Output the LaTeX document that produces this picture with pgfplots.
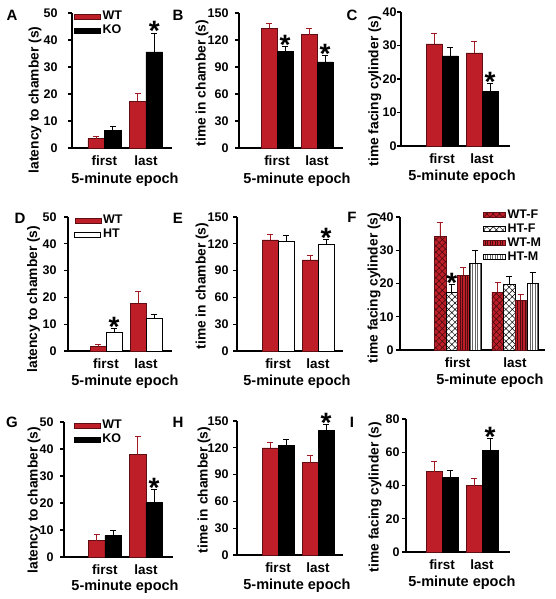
\documentclass[border=0pt]{standalone}
\usepackage{pgfplots}
\pgfplotsset{compat=1.18}
\usepackage{fontspec}
\setmainfont{Liberation Sans}
\usetikzlibrary{patterns.meta}
\definecolor{wtred}{RGB}{190,30,40}
\newcommand{\fs}[1]{\fontsize{#1}{#1}\selectfont}
\newcommand{\sig}[2]{\node[font=\bfseries\fs{28}, anchor=base, yshift=-8pt, inner sep=0pt] at (axis cs:#1,#2) {*};}
\pgfplotsset{
 panel/.style={
  scale only axis, anchor=south west,
  axis x line=bottom, axis y line=left,
  axis line style={-, line width=1.7pt},
  enlargelimits=false,
  ybar, ymin=0, clip=false,
  xtick={1,2}, xticklabels={first,last},
  xtick style={draw=none},
  ytick style={line width=1.2pt, black},
  tick align=outside, major tick length=4pt,
  xticklabel style={font=\bfseries\fs{13.5}},
  yticklabel style={font=\bfseries\fs{12.5}},
  /pgf/number format/assume math mode=true,
  xlabel={5-minute epoch},
  xlabel style={font=\bfseries\fs{14.5}, anchor=center},
  ylabel style={font=\bfseries\fs{13.8}, anchor=center},
  bar width=0.4,
  error bars/y dir=plus, error bars/y explicit,
  legend image code/.code={\path[##1] (0pt,-2.5pt) rectangle (26pt,2.5pt);},
  legend style={draw=none, fill=none, anchor=north west, font=\bfseries\fs{12.5}, row sep=0pt, inner sep=0pt},
  legend cell align=left,
 },
 errst/.style={error bars/error bar style={#1, line width=0.8pt}, error bars/error mark options={rotate=90, mark size=3pt, #1, line width=0.8pt}},
 wt/.style={fill=wtred, draw=black!50!wtred, line width=0.4pt, bar shift=-0.2, errst=wtred!85!black},
 ko/.style={fill=black, draw=black, line width=0.4pt, bar shift=0.2, errst=black},
 ht/.style={fill=white, draw=black, line width=0.6pt, bar shift=0.2, errst=black},
 wtf/.style={fill=wtred, draw=black!50!wtred, line width=0.4pt, postaction={pattern={Hatch[angle=45,distance=4.5pt,line width=0.6pt]}, pattern color=black!60!wtred}, bar shift=-0.305, errst=wtred!85!black},
 htf/.style={fill=white, draw=black, line width=0.5pt, postaction={pattern={Hatch[angle=45,distance=4.5pt,line width=0.5pt]}, pattern color=black}, bar shift=-0.1, errst=black},
 wtm/.style={fill=wtred, draw=black!50!wtred, line width=0.4pt, postaction={pattern={Lines[angle=90,distance=2.5pt,line width=0.5pt]}, pattern color=black!60!wtred}, bar shift=0.1, errst=wtred!85!black},
 htm/.style={fill=white, draw=black, line width=0.5pt, postaction={pattern={Lines[angle=90,distance=2.5pt,line width=0.4pt]}, pattern color=black!60}, bar shift=0.305, errst=black},
}
\begin{document}
\begin{tikzpicture}
\path[use as bounding box] (0,0) rectangle (556pt,-599pt);
% panel letters
\foreach \l/\x/\y in {A/12/15, B/178/15, C/352/15, D/20/218, E/178/218, F/352/217, G/12/422, H/178/422, I/352/422}
  \node[font=\bfseries\fs{15}] at (\x pt,-\y pt) {\l};

% ---------- A ----------
\begin{axis}[panel, at={(72pt,-148pt)}, width=100pt, height=135pt,
  xmin=0.217, xmax=2.627, ymax=50, ytick={0,10,...,50},
  yticklabel style={xshift=-7pt},
  ylabel={latency to chamber (s)},
  ylabel style={at={(axis description cs:-0.37,0.356)}},
  xlabel style={at={(axis description cs:0.53,-0.237)}},
  legend style={at={(axis description cs:0.02,1.03)}}]
\addplot[wt] coordinates {(1,3.5) +- (0,0.7) (2,17.4) +- (0,2.7)};
\addplot[ko] coordinates {(1,6.5) +- (0,1.6) (2,35.6) +- (0,7.0)};
\legend{WT,KO}
\sig{2.2}{42.6}
\end{axis}

% ---------- B ----------
\begin{axis}[panel, at={(239pt,-148pt)}, width=104pt, height=135pt,
  xmin=0.05, xmax=2.65, ymax=150, ytick={0,30,...,150},
  yticklabel style={xshift=-3pt},
  ylabel={time in chamber (s)},
  ylabel style={at={(axis description cs:-0.356,0.481)}},
  xlabel style={at={(axis description cs:0.558,-0.237)}}]
\addplot[wt] coordinates {(1,133.3) +- (0,4.7) (2,126) +- (0,7)};
\addplot[ko] coordinates {(1,107.4) +- (0,5.6) (2,95.6) +- (0,7.4)};
\sig{1.2}{113}
\sig{2.2}{103}
\end{axis}

% ---------- C ----------
\begin{axis}[panel, at={(401pt,-146pt)}, width=109pt, height=134pt,
  xmin=-0.025, xmax=2.7, ymax=40, ytick={0,10,...,40},
  yticklabel style={xshift=3pt},
  ylabel={time facing cylinder (s)},
  ylabel style={at={(axis description cs:-0.239,0.41)}},
  xlabel style={at={(axis description cs:0.56,-0.231)}}]
\addplot[wt] coordinates {(1,30.5) +- (0,3.2) (2,27.8) +- (0,3.3)};
\addplot[ko] coordinates {(1,26.9) +- (0,2.4) (2,16.3) +- (0,2.3)};
\sig{2.2}{18.6}
\end{axis}

% ---------- D ----------
\begin{axis}[panel, at={(68pt,-351pt)}, width=104pt, height=134pt,
  xmin=0.05, xmax=2.65, ymax=50, ytick={0,10,...,50},
  yticklabel style={xshift=-4pt},
  ylabel={latency to chamber (s)},
  ylabel style={at={(axis description cs:-0.33,0.388)}},
  xlabel style={at={(axis description cs:0.548,-0.231)}},
  legend style={at={(axis description cs:0.06,1.03)}}]
\addplot[wt] coordinates {(1,1.7) +- (0,0.7) (2,17.9) +- (0,4.5)};
\addplot[ht] coordinates {(1,6.8) +- (0,1.5) (2,12.1) +- (0,1.6)};
\legend{WT,HT}
\sig{1.2}{8.3}
\end{axis}

% ---------- E ----------
\begin{axis}[panel, at={(237pt,-351pt)}, width=106pt, height=134pt,
  xmin=-0.025, xmax=2.625, ymax=150, ytick={0,30,...,150},
  yticklabel style={xshift=-1pt},
  ylabel={time in chamber (s)},
  ylabel style={at={(axis description cs:-0.33,0.485)}},
  xlabel style={at={(axis description cs:0.566,-0.231)}}]
\addplot[wt] coordinates {(1,124.5) +- (0,6.5) (2,102) +- (0,4.5)};
\addplot[ht] coordinates {(1,122.6) +- (0,6.4) (2,119.6) +- (0,5.6)};
\sig{2.2}{125.2}
\end{axis}

% ---------- F ----------
\begin{axis}[panel, at={(400pt,-350pt)}, width=145pt, height=133pt,
  xmin=0, xmax=2.52, ymax=40, ytick={0,10,...,40}, bar width=0.2,
  yticklabel style={xshift=1pt},
  ylabel={time facing cylinder (s)},
  ylabel style={at={(axis description cs:-0.179,0.466)}},
  xlabel style={at={(axis description cs:0.62,-0.233)}},
  legend image code/.code={\path[#1] (0pt,-2.5pt) rectangle (22pt,2.5pt);},
  legend style={at={(axis description cs:0.572,1.07)}}]
\addplot[wtf] coordinates {(1,34.2) +- (0,4.2) (2,17.4) +- (0,2.9)};
\addplot[htf] coordinates {(1,17.4) +- (0,2.3) (2,19.7) +- (0,2.4)};
\addplot[wtm] coordinates {(1,22.5) +- (0,2.2) (2,15.0) +- (0,1.8)};
\addplot[htm] coordinates {(1,26.0) +- (0,3.9) (2,20.0) +- (0,3.2)};
\legend{WT-F,HT-F,WT-M,HT-M}
\sig{0.9}{19.7}
\end{axis}

% ---------- G ----------
\begin{axis}[panel, at={(64pt,-557pt)}, width=109pt, height=135pt,
  xmin=0, xmax=2.66, ymax=50, ytick={0,10,...,50},
  yticklabel style={xshift=-3pt},
  ylabel={latency to chamber (s)},
  ylabel style={at={(axis description cs:-0.275,0.422)}},
  xlabel style={at={(axis description cs:0.56,-0.222)}},
  legend style={at={(axis description cs:0.09,1.03)}}]
\addplot[wt] coordinates {(1,6.1) +- (0,2.2) (2,38.1) +- (0,6.6)};
\addplot[ko] coordinates {(1,7.9) +- (0,2.1) (2,20.2) +- (0,4.7)};
\legend{WT,KO}
\sig{2.2}{24.9}
\end{axis}

% ---------- H ----------
\begin{axis}[panel, at={(237pt,-555pt)}, width=106pt, height=134pt,
  xmin=-0.025, xmax=2.625, ymax=150, ytick={0,30,...,150},
  yticklabel style={xshift=-1pt},
  ylabel={time in chamber (s)},
  ylabel style={at={(axis description cs:-0.311,0.485)}},
  xlabel style={at={(axis description cs:0.566,-0.231)}}]
\addplot[wt] coordinates {(1,120) +- (0,6.5) (2,103.7) +- (0,7.9)};
\addplot[ko] coordinates {(1,122.8) +- (0,6.7) (2,139.5) +- (0,6.8)};
\sig{2.2}{146.3}
\end{axis}

% ---------- I ----------
\begin{axis}[panel, at={(406pt,-552pt)}, width=104pt, height=133pt,
  xmin=0.1, xmax=2.7, ymax=80, ytick={0,20,...,80},
  yticklabel style={xshift=1pt},
  ylabel={time facing cylinder (s)},
  ylabel style={at={(axis description cs:-0.298,0.414)}},
  xlabel style={at={(axis description cs:0.538,-0.233)}}]
\addplot[wt] coordinates {(1,48.4) +- (0,6.0) (2,40) +- (0,4.4)};
\addplot[ko] coordinates {(1,45) +- (0,4.2) (2,61) +- (0,7.4)};
\sig{2.2}{68.4}
\end{axis}
\end{tikzpicture}
\end{document}
